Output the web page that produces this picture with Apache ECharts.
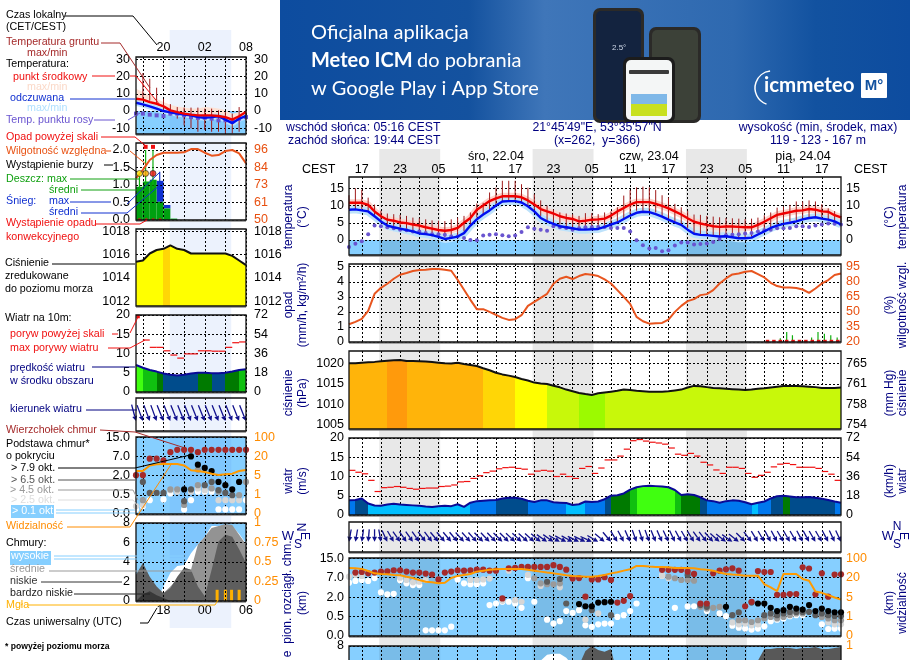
<!DOCTYPE html>
<html lang="pl">
<head>
<meta charset="UTF-8">
<title>Meteogram ICM</title>
<script src="https://cdn.jsdelivr.net/npm/echarts@6/dist/echarts.min.js"></script>
<style>
html,body{margin:0;padding:0;background:#fff}
#Main{width:910px;height:660px}
</style>
</head>
<body>
<div id="Main"></div>
<script type="text/javascript">
// ---- long forecast, hour 0 = 21.04 15:00 CEST ----
var tempMid = [10.8,10.8,10.8,10.2,8.3,6.9,5.9,5.6,5.1,4.9,4.5,4.2,3.7,3.3,2.9,2.7,2.9,3.5,5,6.4,8.8,10,11.3,12.1,12.7,12.7,12.7,12.4,11.5,10.3,9,8.3,7.7,6.9,6.4,6.1,5.4,5.6,5.9,6,6.2,7.1,8.3,9.3,10.3,11,11,11,10.5,9.9,9.2,8.3,7.4,6.3,5.3,4.8,4.4,4,3.8,3.9,3.9,3.8,3.7,3.7,4.4,5.3,6.3,7.3,7.7,8.1,8.5,8.6,9,8.8,8.3,8.2,7.2,6.6];
var tempFeel = [8.8,8.9,8.6,8.3,6.9,5.4,4.2,3.7,3.3,2.9,2.5,1.9,1.7,1.4,0.9,0.3,0.6,1,2,4.2,6,7.4,8.6,10,11.2,11.3,11.3,10.9,9.8,8.3,6.4,5.4,4.7,4,3.7,3.4,3,3,3.1,3.2,3.8,4.5,5.1,6.1,7.1,7.9,8.2,8.1,7.5,6.8,5.9,5.1,4.4,3,1.8,1.5,1.4,1.2,1,1.1,0.8,0.5,0.5,0.7,1.6,2.5,3.5,4.2,4.7,5,5.4,6,6.4,6.6,6.2,5.9,5.4,4.5];
var dewPoint = [-2,-1.1,-0.4,1.7,4.2,4,3.7,3.4,3,2.8,2.5,2.5,2,1.7,1.7,1.5,1,1,0.6,0,-0.1,1.3,1.5,1.7,1.4,1.1,1.3,2.3,3.7,3.3,3,2.7,4,3.7,3.5,3,3.4,3.7,3.7,3.8,3.8,3.5,3.5,3.5,2.5,-0.1,-1.5,-2.5,-2.3,-3.3,-3,-1.6,-0.7,-0.7,-1.3,-1.2,-1,-0.6,0.3,1.4,1.5,1.7,1.9,2,2.5,2.8,3,3.4,3.4,3.5,4,4,3.8,4.2,4.5,4.8,4.7,4.5];
var groundMax = [13,15,14.6,12.3,10.3,8.5,7.7,7.5,7.3,7,6.5,6.3,6,5.7,5.6,5.5,6,6.5,7,8,10.6,10.8,13.8,15.2,17.2,17.2,17.2,16.2,15.2,13.3,11.5,10,8.8,8,7.7,7.5,7,7.8,7.8,7.5,8,8.3,9.5,12.9,14.5,15.3,15.5,15.3,14.5,13,12.3,10.5,9.5,8.5,7.4,7.3,7,6.8,6.6,6.4,6.3,6.2,6.1,6.2,6.5,7.2,8,9.4,9.7,10.2,11.2,11.2,11.5,11.2,10.4,9.2,8.4,7];
var groundMin = [9,9,9,8.5,7,5,4.5,4,3.5,3,2.5,2,1.5,1,1,0.8,1,1.5,2.5,4,6.5,7.5,8.5,10,11,11.5,11.5,11,10,8.5,7,5.5,5,4.5,4,3.5,3,3,3,3,4,4.5,5,6,7.5,8.5,8.5,8.5,8,7,6,5,4.5,3.5,2,1.5,1.5,1.2,1,1,1,0.8,0.8,1,2,2.5,3.5,4.5,5,5.3,5.7,6.2,6.6,6.8,6.5,6,5.5,5];
var humidity = [37.7,40,43,51,68,74,78,83,87,88.7,90.7,91.7,92,92.7,92.7,92,91,82,72,62,52.7,52.7,50,47,44,42,42.7,46.7,56,60,64,68,78,83,85,82.7,85.7,87.7,87,85.7,82.3,78.3,71.7,65,58,45,40.7,38.3,38.7,39,42.3,50,56,60.7,62.7,66.7,67.7,71.7,78.3,83.3,87.3,88.3,90,90.7,87.7,84.3,79,75.7,74.3,74.3,73.7,72.3,69,73.3,78.3,81.7,86.7,88.3];
var rainSticks = [[67.5,0.25],[68.5,0.67],[69.4,0.45],[72.4,0.3],[73.4,0.67],[74.4,0.55],[75.4,0.45],[76.4,0.3]];
var convectiveHours = [65.5,66.5,67.5,68.5,69.5,70.5,71.5,72.5,73.5,74.5,75.5,76.5];
var pressure = [1020,1020,1020.15,1020.25,1020.35,1020.5,1020.65,1020.75,1020.8,1020.55,1020.55,1020.5,1020.45,1020.3,1020.15,1020,1019.95,1020.15,1019.85,1019.6,1019.35,1018.8,1018.3,1017.7,1017.3,1017,1016.65,1016.2,1015.8,1015.3,1015.1,1014.95,1014.55,1014.15,1013.6,1013.2,1012.77,1012.5,1012.3,1012.7,1012.9,1013.1,1013.3,1013.6,1013.5,1013.3,1013.2,1013.1,1013.1,1013.1,1013.2,1013.4,1013.6,1014.1,1014.5,1014.4,1014.2,1014,1013.9,1013.8,1013.7,1013.6,1013.5,1013.6,1013.8,1013.9,1014.1,1014.3,1014.5,1014.5,1014.5,1014.4,1014.3,1014.2,1014,1014,1014,1014.1];
var windSpeed = [3.84,3.9,4.3,3,2.45,2.4,2.7,2.9,2.7,2.6,2.5,2.4,2.2,2.1,2.3,2.4,2.3,2.8,2.1,3.2,3.6,3.7,3.8,3.9,4.3,4.5,4.5,4.2,3.7,3.4,3.8,3.8,3.3,3.2,3.1,2.6,2.8,3.5,3.4,3.5,4.1,5,5.15,5.6,6.6,7.2,7.5,7.6,7.5,7.4,7.2,6.5,5.2,5.4,5.2,4.6,3.8,3.6,3.2,3.6,3.8,3.7,3.3,2.8,3.2,3.5,4.3,4.9,5,4.8,4.6,4.6,4.7,4.5,4.2,3.9,3.5,3.2];
var gusts = [11.6,11.1,10.7,9,6.1,7.1,7.2,7.4,7.2,6.9,6.7,6.9,7,7,7.4,7.5,7.8,8.6,8.7,9.5,10.2,11,11.4,12,12.3,12.4,12.1,11.9,10.6,11.4,11.6,11.4,10,10.6,10,9.5,12.1,12.6,10.8,12.2,14.3,14.3,15.3,17.1,19.3,19.6,19.2,18.9,18.7,18.4,17.4,15.8,15.5,16,15.3,13.7,13,11.7,10.8,12.4,12.4,12.1,10.8,9.8,10.3,11.1,12.5,13.2,13.4,13.1,12.4,12.4,12.4,12.1,11.3,10.6,9];
var windDir = [10,10,8,5,0,350,335,330,325,325,325,325,323,323,320,320,320,320,318,318,318,316,316,316,315,315,313,313,312,312,310,305,305,300,298,298,296,296,295,300,310,320,328,332,336,340,342,340,338,336,335,335,332,330,328,325,322,318,312,308,305,308,315,322,328,330,332,332,330,330,330,332,332,330,330,332,335,335];
var visibility = [3.5,3.48,3.45,3.34,3.22,3.19,3.17,3.14,3.12,3.05,2.98,2.88,2.79,2.76,2.71,2.74,2.98,3.09,3.14,3.19,3.31,3.36,3.4,3.43,3.45,3.45,3.45,3.45,3.41,3.36,3.31,3.26,3.22,3.17,3.12,3.09,3.07,3.05,3.05,3.09,3.14,3.22,3.28,3.36,3.43,3.6,3.6,3.57,3.55,3.55,3.53,3.5,3.5,3.5,3.48,3.43,3.41,3.36,3.26,3.19,3.16,3.14,3.1,3.1,3.1,2.66,2.5,2.31,3.19,3.19,3.19,2.93,2.84,2.29,2.22,2.1,1.98,1.88];
// cloud base levels are counted in axis steps: 0=0km, 1=0.5km, 2=2km, 3=7km, 4=15km
var baseTops = [[1,3.26],[2,3.29],[3,3.22],[4,3.26],[5,3.31],[6,3.33],[7,3.38],[8,3.38],[9,3.31],[10,3.26],[11,3.26],[12,3.21],[13,3.16],[14,2.91],[15,3.26],[16,3.31],[17,3.38],[18,3.36],[19,3.38],[20,3.41],[21,3.41],[22,3.36],[23,3.36],[24,1.93],[25,3.48],[26,3.5],[27,3.55],[28,3.55],[29,3.55],[30,3.55],[31,3.55],[32,3.64],[33,3.55],[34,3.41],[35,2.95],[36,2.98],[37,2.02],[38,2.91],[39,2.91],[40,3.02],[41,2.88],[42,1.72],[43,1.81],[44,2.05],[49,3.4],[50,3.4],[51,3.4],[52,3.4],[53,3.31],[54,3.19],[55,1.67],[56,1.67],[57,3.22],[58,3.36],[59,3.43],[60,3.48],[61,3.36],[62,1.53],[63,1.76],[64,3.34],[65,3.29],[66,3.29],[67,2.12],[68,2.12],[69,2.16],[70,2.16],[71,3.53],[72,3.47],[73,2.14],[74,3.22],[75,2.02],[76,3.16],[77,3.17]];
var base79 = [[36,1.64],[37,1.53],[38,1.53],[39,1.72],[40,1.74],[41,1.76],[59,1.5],[64,1.67],[65,1.67],[66,1.45],[67,1.28],[68,1.33],[69,1.5],[70,1.41],[71,1.36],[72,1.59],[73,1.28],[74,1.41],[75,1.28],[76,1.22],[77,1.22]];
var base65 = [[31,2.79],[33,2.93],[34,1.67],[38,1.33],[41,1.07],[53,3.14],[55,1.59],[56,1.5],[60,1.07],[61,1.21],[63,1.72],[65,1.07],[66,1.16],[67,1.07],[68,1.16],[69,1.24],[70,1.24],[71,1.24],[72,1.24],[73,1.07],[74,1.16],[75,1.07],[76,1.03],[77,1.03]];
var base45 = [[29,2.97],[30,2.71],[31,2.66],[32,2.66],[33,2.71],[50,3.05],[51,2.97],[52,2.88],[53,2.88],[54,2.84],[55,1.5],[56,1.41],[57,1.45],[58,1.5],[61,0.81],[62,0.81],[63,0.72],[64,0.81],[65,0.9],[66,0.98],[67,0.9],[68,0.98],[69,1.07],[70,1.16],[71,1.16],[74,0.98],[75,0.9],[76,0.81],[77,0.81]];
var base25 = [[0,3.05],[1,3.14],[2,3.09],[8,3],[9,2.88],[10,2.76],[11,2.79],[12,2.88],[19,2.88],[20,2.88],[21,2.91],[22,2.95],[24,1.81],[25,3.36],[26,1.84],[27,1.76],[28,3.14],[30,2.57],[33,2.5],[37,0.84],[39,1.16],[49,3.1],[50,2.97],[60,0.7],[61,0.6],[62,0.64],[63,0.55],[64,0.6],[75,0.7],[76,0.6],[77,0.6]];
var base01 = [[0,2.74],[1,2.83],[2,2.88],[3,2.83],[4,2.98],[5,2.24],[6,2.14],[7,2.17],[8,2.86],[9,2.71],[10,2.62],[11,2.62],[12,0.29],[13,0.29],[14,0.29],[15,0.29],[16,0.48],[17,2.91],[18,2.71],[19,2.66],[20,2.66],[21,2.71],[22,1.59],[23,1.67],[24,1.76],[25,1.76],[26,1.67],[27,1.45],[28,2.97],[29,1.76],[31,0.84],[32,0.64],[33,0.76],[34,1.28],[35,1.19],[36,1.33],[37,0.55],[38,0.47],[39,0.6],[40,0.64],[41,0.64],[42,0.98],[43,1.07],[44,1.28],[45,1.67],[49,3.1],[51,1.45],[53,1.52],[54,1.53],[56,1.28],[58,1.16],[59,1.02],[60,0.53],[61,0.43],[62,0.38],[63,0.33],[64,0.38],[65,0.5],[66,0.76],[67,0.84],[68,0.9],[69,1.02],[70,1.07],[71,1.07],[74,0.6],[75,0.36],[76,0.38],[77,0.38]];
var cloudHigh = [0,0,0,0,0,0,0,0,0,0,0,0,0,0,0,0,0,0,0,0,0,0,0,0,0,0,0,0,0,5,6.5,7.1,7.2,7.2,6.8,6,5,0,0,0,0,0,0,0,0,0,0,0,0,0,0,0,0,0,0,0,0,0,0,0,0,0,0,0,0,0,0,0,0,0,0,0,0,0,0,0,0,0];
var cloudLow = [0,0,0,0,0,0,0,0,0,0,0,0,0,0,0,0,0,0,0,0,0,0,0,0,0,0,0,0,0,0,0,0,0,0,0,3,6,7.5,8,7.6,7.4,7.7,5,3,0,0,0,0,0,0,0,0,0,0,0,0,0,0,0,0,0,0,0,3,6.5,7.7,7.7,7.8,7.8,7.8,7.7,7.8,7.8,7.9,7.7,7.7,7.8,7.9];
var nightSpans = [[4.73,14.27],[28.73,38.27],[52.73,62.27]];

// ---- short forecast (small panels), hour 0 = 16:00 ----
var sTempMid = [7.1,6.6,5.2,4.2,2.7,0.4,-0.6,-1.5,-2.1,-2.5,-2.5,-2.5,-2.9,-3.5,-5,-3,-0.6];
var sTempFeel = [4.8,3.9,2.7,1.4,0,-0.8,-1.5,-2,-2.5,-3.5,-3.9,-3.5,-3,-5,-7,-4.4,-3];
var sTempMax = [12.9,11,9,7,5.2,3.7,2.7,2,1.4,1.4,2.3,2,1.4,0.4,-1.5,-0.6,0.4];
var sGroundMax = [7,22,18.7,13.5,7,4,2.3,2,2,2,1.4,1.4,0.4,-0.6,-1.5,2.3,0.4];
var sGroundMin = [7,7,6,4,0.4,-2.5,-4.4,-8.3,-10,-12,-11,-12,-12,-13,-13,-12,-5];
var sDew = [-1.5,-1.5,-2.1,-2.5,-2.9,-1.5,-1.5,-2.5,-3.5,-4,-3.9,-4.4,-5.4,-5.4,-6,-4.4,-3.5];
var sHumidity = [77.4,82.9,89.4,92.7,94.2,94.2,94.2,94.5,96.6,96.6,94.2,92.3,92.7,95.3,96,93.8,87.2];
var sRain = [0.95,1.1,1.15,0.52,0.33,0.04];
var sSnow = [0,0,0,0.6,0.1,0];
var sRainMax = [[0.5,1.33],[1.4,2],[2.47,2]];
var sSnowMax = [[3.45,1.38]];
var sOverScale = [[1.4,2.09],[2.47,2.09]];
var sStorm = [[0.5,1.33,'#ffe600'],[1.4,1.33,'#ffa500'],[2.47,1.33,'#f01010']];
var sConvective = [0.5,1.5,2.5,3.5];
var sPressure = [1015.4,1015.5,1016.1,1016.4,1016.5,1016.8,1016.5,1016.4,1016.1,1016.1,1016.1,1016.1,1016.1,1016.1,1015.9,1015.5,1015.1];
var sWind = [7,6.3,5.7,5.3,4.8,4.5,4.3,4.5,4.8,5,5,4.9,4.9,5,5.3,5.7,5.9];
var sGusts = [null,13.5,11.6,11.6,10.7,9.6,8.8,9.9,9.9,10.7,10.7,10.6,10.6,11.6,12.8,13];
var sGustOver = [[0.3,19.6]];
var sWindDir = [345,340,340,340,338,338,338,338,338,338,338,338,338,338,338,338,338];
var sTops = [[0,2.02],[1,2.02],[2,2.88],[3,2.88],[4,2.79],[5,3.22],[6,3.34],[7,3.34],[8,3.34],[9,3.22],[10,3.34],[11,3.34],[12,3.34],[13,3.34],[14,3.34],[15,3.34],[16,3.34]];
var s79 = [[7,1.28],[8,3],[9,2.57],[10,2.4],[11,2.24],[12,1.67],[13,1.5],[14,1.28],[15,1.67]];
var s65 = [[1,1.67],[2,1.1],[3,1.1],[4,1.1],[7,0.67],[8,1.28],[10,1.5],[11,1.67],[12,1.24],[13,1.1],[14,0.98]];
var s45 = [[1,0.72],[5,1.28],[6,1.28],[7,0.47],[9,1.5],[9,2.3],[11,1.33],[12,1.16],[15,0.98],[16,1.67]];
var s25 = [[0,0.41],[1,0.47],[5,1.24],[6,1.16],[8,1.16],[9,1.33],[10,1.24],[12,0.72],[13,0.72],[14,0.72],[15,0.72]];
var s01 = [[0,0.24],[1,0.41],[2,0.72],[4,0.76],[5,1.07],[7,0.24],[8,0.72],[9,1.16],[10,1.16],[11,1.16],[12,0.24],[13,0.24],[14,0.24],[15,0.24],[16,0.72]];
var sVisibility = [2.24,2.24,2.53,2.59,2.6,2.6,2.6,2.53,2.28,2.24,2.19,2.1,2.03,2.07,2.1,2.24,2.29];
var sCloudHigh = [0,0,0,0,1.5,2.9,3.6,3.7,4.9,5.8,6.6,7.7,7.7,7.8,7.7,6.9,5.9];
var sCloudMid = [0,0,0,0,0.8,1.5,2.2,3.4,3.2,5.8,6.6,7.5,7.7,7.9,7.8,6.8,5.8];
var sCloudLow = [2.7,3.9,2.5,1.5,0.8,1.3,2.5,3.4,3.2,1.5,0.5,3.2,6.1,6.8,6.6,5.3,3.9];
var sCloudVeryLow = [0,0.7,1,0.6,0.3,0,0,0,0,0,0,0,0,0,0,0,0];
var sFog = [[11.8,1.15],[13,1.15],[13.9,1.15],[15,1.15]];
var sBand = [[4.9,13.85]];

var FONT = '"Liberation Sans", Arial, sans-serif';
var grids = [], xAxes = [], yAxes = [], series = [], graphics = [];

function range(a, b, step) {
    var r = [];
    for (var v = a; v <= b; v += step) r.push(v);
    return r;
}
function pad2(h) {
    h = ((h % 24) + 24) % 24;
    return (h < 10 ? '0' : '') + h;
}

// one panel = one grid, one x axis, a left value axis and a right label axis
function addPanel(c) {
    var g = grids.length, ids = {x: xAxes.length, y: yAxes.length, r: yAxes.length + 1};
    grids.push({left: c.left, top: c.top, width: c.width, height: c.height, show: true, outerBoundsMode: 'none',
        backgroundColor: c.bg || '#fff', borderWidth: 0});
    xAxes.push({
        gridIndex: g, type: 'value', min: 0, max: c.xMax, position: c.xPos || 'top', z: 3,
        axisLine: {show: false},
        axisTick: {show: false, customValues: c.xTicks},
        splitLine: {show: true, lineStyle: {color: '#000', type: [2, 2], width: 1}},
        axisLabel: c.xLabels ? {show: true, customValues: c.xLabels, margin: c.xMargin, color: '#000', fontFamily: FONT, fontSize: 12.5, formatter: function (v) { return pad2(c.xBase + v); }} : {show: false}
    });
    var hasTicks = !!c.yTicks;
    yAxes.push({
        gridIndex: g, type: 'value', min: c.yMin, max: c.yMax, position: 'left', z: 3,
        axisLine: {show: false},
        axisTick: {show: false, customValues: c.yTicks || []},
        splitLine: {show: hasTicks, lineStyle: {color: '#000', type: [2, 2], width: 1}},
        axisLabel: hasTicks ? {show: true, customValues: c.yTicks, margin: c.lMargin, color: '#000', fontFamily: FONT, fontSize: 12.5,
            formatter: function (v) { return c.yLabels[c.yTicks.indexOf(v)]; }} : {show: false}
    });
    var rt = c.rTicks || c.yTicks, rm = c.rMin === undefined ? c.yMin : c.rMin, rx = c.rMax === undefined ? c.yMax : c.rMax;
    yAxes.push({
        gridIndex: g, type: 'value', min: rm, max: rx, position: 'right', z: 3,
        axisLine: {show: false},
        axisTick: {show: false, customValues: rt || []},
        splitLine: {show: false},
        axisLabel: hasTicks && c.rLabels ? {show: true, customValues: rt, margin: c.rMargin, color: c.rColor || '#000', fontFamily: FONT, fontSize: 12.5,
            formatter: function (v) { return c.rLabels[rt.indexOf(v)]; }} : {show: false}
    });
    ids.g = g;
    series.push({type: 'custom', xAxisIndex: ids.x, yAxisIndex: ids.y, z: 7, silent: true, data: [[0, c.yMin]],
        renderItem: function (p) {
            var s = p.coordSys;
            return {type: 'group', children: [
                {type: 'line', shape: {x1: s.x, y1: s.y + s.height + 1, x2: s.x + s.width, y2: s.y + s.height + 1}, style: {stroke: '#888', lineWidth: 1.5}},
                {type: 'rect', shape: {x: s.x, y: s.y, width: s.width, height: s.height}, style: {fill: null, stroke: '#111', lineWidth: 1.3}}
            ]};
        }});
    return ids;
}
function toPairs(vals) {
    return vals.map(function (v, i) { return [i, v]; });
}
function lineS(p, vals, color, width, z, opts) {
    var o = {type: 'line', xAxisIndex: p.x, yAxisIndex: (opts && opts.right) ? p.r : p.y, data: toPairs(vals), showSymbol: false, symbol: 'none',
        lineStyle: {color: color, width: width}, z: z || 4, silent: true, animation: false};
    if (opts && opts.area) o.areaStyle = {color: opts.area, opacity: 1};
    return o;
}
function dotsS(p, pairs, color, size, z, symbol) {
    return {type: 'scatter', xAxisIndex: p.x, yAxisIndex: p.y, data: pairs, symbol: symbol || 'circle', symbolSize: size,
        itemStyle: {color: color, opacity: 1}, z: z || 5, silent: true};
}
// hour lists with two numbers: a vertical stick from a to b
function sticksS(p, triples, color, width, z) {
    return {type: 'custom', xAxisIndex: p.x, yAxisIndex: p.y, z: z || 4, silent: true, data: triples,
        renderItem: function (param, api) {
            var a = api.coord([api.value(0), api.value(1)]), b = api.coord([api.value(0), api.value(2)]);
            return {type: 'line', shape: {x1: a[0], y1: a[1], x2: b[0], y2: b[1]}, style: {stroke: color, lineWidth: width}};
        }};
}
// each value is drawn as a short dash covering its hour
function dashS(p, vals, color, z) {
    var d = [];
    vals.forEach(function (v, i) { if (v !== null) d.push([i, v]); });
    return {type: 'custom', xAxisIndex: p.x, yAxisIndex: p.y, z: z || 5, silent: true, data: d,
        renderItem: function (param, api) {
            var a = api.coord([api.value(0), api.value(1)]), b = api.coord([api.value(0) + 1, api.value(1)]);
            return {type: 'line', shape: {x1: a[0], y1: a[1], x2: b[0], y2: b[1]}, style: {stroke: color, lineWidth: 1.2}};
        }};
}
// bar covering one hour, from a to b
function hourBarS(p, triples, color, z) {
    return {type: 'custom', xAxisIndex: p.x, yAxisIndex: p.y, z: z || 2, silent: true, data: triples,
        renderItem: function (param, api) {
            var a = api.coord([api.value(0), api.value(2)]), b = api.coord([api.value(0) + 1, api.value(1)]);
            return {type: 'rect', shape: {x: a[0], y: a[1], width: b[0] - a[0], height: b[1] - a[1]}, style: {fill: color}};
        }};
}
function arrowsS(p, dirs, len, headY, color) {
    return {type: 'custom', xAxisIndex: p.x, yAxisIndex: p.y, z: 5, silent: true, clip: false, data: dirs.map(function (d, i) { return [i, headY]; }),
        renderItem: function (param, api) {
            var tip = api.coord([api.value(0), api.value(1)]), r = dirs[param.dataIndex] * Math.PI / 180;
            var dx = -Math.sin(r), dy = Math.cos(r), nx = -dy, ny = dx;
            var bx = tip[0] - dx * 5, by = tip[1] - dy * 5;
            return {type: 'group', children: [
                {type: 'polyline', shape: {points: [[tip[0] - dx * len, tip[1] - dy * len], [bx, by]]}, style: {stroke: color, fill: null, lineWidth: 1.3}},
                {type: 'polygon', shape: {points: [[tip[0], tip[1]], [bx + nx * 2.5, by + ny * 2.5], [bx - nx * 2.5, by - ny * 2.5]]}, style: {fill: color}}
            ]};
        }};
}
// polygon between two lists
function bandS(p, upper, lower, color, z) {
    return {type: 'custom', xAxisIndex: p.x, yAxisIndex: p.y, z: z || 2, silent: true, data: [[0, upper[0]]],
        renderItem: function (param, api) {
            var pts = [], i;
            for (i = 0; i < upper.length; i++) pts.push(api.coord([i, upper[i]]));
            for (i = lower.length - 1; i >= 0; i--) pts.push(api.coord([i, lower[i]]));
            return {type: 'polygon', shape: {points: pts}, style: {fill: color}};
        }};
}
function hardStops(colors) {
    var n = colors.length - 1, st = [];
    for (var i = 0; i < n; i++) {
        st.push({offset: i / n, color: colors[i]});
        st.push({offset: (i + 1) / n, color: colors[i]});
    }
    return new echarts.graphic.LinearGradient(0, 0, 1, 0, st);
}
function pressureColor(v) {
    if (v >= 1020.6) return '#ff9a0c';
    if (v >= 1019.3) return '#ffb40a';
    if (v >= 1016.7) return '#ffd606';
    if (v >= 1015.05) return '#ffff00';
    if (v >= 1012.85) return '#c8f80a';
    return '#9cfa00';
}
function windColor(v) {
    if (v < 3.15) return '#00bfff';
    if (v < 3.9) return '#0078ee';
    if (v < 5) return '#004c8c';
    if (v < 5.7) return '#007a00';
    if (v < 7) return '#10c010';
    return '#40ff10';
}
// panel parts shared by the long and the short column
function tempBelowZero(p, yMin) {
    return {type: 'line', xAxisIndex: p.x, yAxisIndex: p.y, data: [], z: 1, silent: true,
        markArea: {silent: true, itemStyle: {color: '#86cfff'}, data: [[{yAxis: yMin}, {yAxis: 0}]]}};
}
function baseSeries(p, lists, vis, size) {
    var cols = ['#ffffff', '#d6d6d6', '#9a9a9a', '#5c5c5c', '#000000', '#a52a2a'];
    lists.forEach(function (l, i) { series.push(dotsS(p, l, cols[i], size, 4 + i * 0.01)); });
    series.push(lineS(p, vis, '#ff9a00', 2, 5));
}

// ---------------- long column ----------------
var HX = {left: 349, width: 492, xMax: 77, xTicks: range(2, 75, 3)};
function mp(o) { for (var k in HX) o[k] = HX[k]; o.lMargin = 5; o.rMargin = 5; return addPanel(o); }

var p1 = mp({top: 177, height: 78, yMin: -4.36, yMax: 18.3, yTicks: [0, 5, 10, 15], yLabels: ['0', '5', '10', '15'], rLabels: ['0', '5', '10', '15'],
    xLabels: range(2, 75, 6), xBase: 15, xMargin: 1});
series.push(tempBelowZero(p1, -4.36));
series.push(lineS(p1, tempMid, '#fdd4cc', 7, 2));
series.push(lineS(p1, tempFeel, '#bde2fb', 8, 2));
series.push(sticksS(p1, groundMax.map(function (v, i) { return [i, groundMin[i], v]; }), '#a01c1c', 1, 3));
series.push(dotsS(p1, toPairs(dewPoint), '#6a55d0', 4, 4));
series.push(lineS(p1, tempFeel, '#0010f0', 2.4, 5));
series.push(lineS(p1, tempMid, '#f00000', 2.4, 5));

var p2 = mp({top: 264, height: 78, yMin: 0, yMax: 5.18, yTicks: [0, 1, 2, 3, 4, 5], yLabels: ['0', '1', '2', '3', '4', '5'],
    rMin: 20, rMax: 97.7, rTicks: [20, 35, 50, 65, 80, 95], rLabels: ['20', '35', '50', '65', '80', '95'], rColor: '#e85010'});
series.push(lineS(p2, humidity, '#e8551f', 2, 5, {right: true}));
series.push(sticksS(p2, rainSticks.map(function (d) { return [d[0], 0, d[1]]; }), '#10b010', 1.2, 4));
series.push(dotsS(p2, convectiveHours.map(function (h) { return [h, 0.03]; }), '#e01010', 3.5, 5, 'rect'));

var p3 = mp({top: 351, height: 78, yMin: 1004, yMax: 1023, yTicks: [1005, 1010, 1015, 1020], yLabels: ['1005', '1010', '1015', '1020'], rLabels: ['754', '758', '761', '765']});
series.push(lineS(p3, pressure, '#111', 2, 5, {area: hardStops(pressure.map(pressureColor))}));

var p4 = mp({top: 438, height: 77, yMin: 0, yMax: 20, yTicks: [0, 5, 10, 15, 20], yLabels: ['0', '5', '10', '15', '20'], rLabels: ['0', '18', '36', '54', '72']});
series.push(lineS(p4, windSpeed, '#0a0a96', 2, 5, {area: hardStops(windSpeed.map(windColor))}));
series.push(dashS(p4, gusts, '#f01010'));

var p5 = mp({top: 522, height: 30, yMin: 0, yMax: 1});
series.push(arrowsS(p5, windDir, 12.5, 0.34, '#10108c'));

var p6 = mp({top: 558, height: 78, bg: '#86cfff', yMin: 0, yMax: 4.01, yTicks: [0, 1, 2, 3, 4], yLabels: ['0.0', '0.5', '2.0', '7.0', '15.0'],
    rLabels: ['0', '1', '5', '20', '100'], rColor: '#ff8c00'});
baseSeries(p6, [base01, base25, base45, base65, base79, baseTops], visibility, 6.2);

var p7 = mp({top: 646, height: 78, bg: '#86cfff', yMin: 0, yMax: 8, yTicks: [0, 2, 4, 6, 8], yLabels: ['0', '2', '4', '6', '8'],
    rLabels: ['0', '0.25', '0.5', '0.75', '1'], rColor: '#ff8c00'});
series.push(lineS(p7, cloudHigh, '#fff', 0, 2, {area: '#ffffff'}));
series.push(lineS(p7, cloudLow, '#585858', 0, 2.1, {area: '#585858'}));

// ---------------- short column ----------------
var SX = {left: 136, width: 110, xMax: 16, xTicks: range(1, 16, 3)};
function sp(o) { for (var k in SX) o[k] = SX[k]; o.lMargin = 6; o.rMargin = 8; return addPanel(o); }

var s1 = sp({top: 57, height: 77, yMin: -13.3, yMax: 31.3, yTicks: [-10, 0, 10, 20, 30], yLabels: ['-10', '0', '10', '20', '30'], rLabels: ['-10', '0', '10', '20', '30'],
    xLabels: [4, 10, 16], xBase: 16, xMargin: 3});
series.push(tempBelowZero(s1, -13.3));
series.push(bandS(s1, sTempMax, sTempMid, '#fde2d6', 1.5));
series.push(lineS(s1, sTempFeel, '#bde2fb', 6, 2));
series.push(sticksS(s1, sGroundMax.map(function (v, i) { return [i, sGroundMin[i], v]; }), '#a01c1c', 1, 3));
series.push(dotsS(s1, toPairs(sDew), '#6a55d0', 4, 4, 'rect'));
series.push(lineS(s1, sTempFeel, '#0010f0', 2.4, 5));
series.push(lineS(s1, sTempMid, '#f00000', 2.4, 5));

var s2 = sp({top: 143, height: 77, yMin: 0, yMax: 2.2, yTicks: [0, 0.5, 1, 1.5, 2], yLabels: ['0.0', '0.5', '1.0', '1.5', '2.0'],
    rMin: 50, rMax: 100.6, rTicks: [50, 61.5, 73, 84.5, 96], rLabels: ['50', '61', '73', '84', '96'], rColor: '#e85010'});
series.push(hourBarS(s2, sSnow.map(function (v, i) { return [i, sRain[i], sRain[i] + v]; }), '#1030d0'));
series.push(hourBarS(s2, sRain.map(function (v, i) { return [i, 0, v]; }), '#00a010', 2.1));
series.push(sticksS(s2, sRainMax.map(function (d) { return [d[0], 0.9, d[1]]; }), '#10b010', 1.2, 4));
series.push(sticksS(s2, sSnowMax.map(function (d) { return [d[0], 0.9, d[1]]; }), '#1030d0', 1.2, 4));
series.push(lineS(s2, sHumidity, '#e8551f', 2, 5, {right: true}));
series.push(dotsS(s2, sOverScale, '#f01010', 4, 6, 'rect'));
series.push(dotsS(s2, sConvective.map(function (h) { return [h, 0.01]; }), '#e01010', 2.5, 6, 'rect'));
series.push({type: 'scatter', xAxisIndex: s2.x, yAxisIndex: s2.y, z: 6, silent: true, symbolSize: 6,
    data: sStorm.map(function (d) { return {value: [d[0], d[1]], itemStyle: {color: d[2], borderColor: '#222', borderWidth: 0.8}}; })});

var s3 = sp({top: 229, height: 77, yMin: 1011.6, yMax: 1018.2, yTicks: [1012, 1014, 1016, 1018], yLabels: ['1012', '1014', '1016', '1018'], rLabels: ['1012', '1014', '1016', '1018']});
// the short column colours each hour by the value at its end
series.push(lineS(s3, sPressure, '#111', 2, 5, {area: hardStops(sPressure.slice(1).concat(sPressure[16]).map(pressureColor))}));

var s4 = sp({top: 315, height: 77, yMin: 0, yMax: 20, yTicks: [0, 5, 10, 15, 20], yLabels: ['0', '5', '10', '15', '20'], rLabels: ['0', '18', '36', '54', '72']});
series.push(lineS(s4, sWind, '#0a0a96', 2, 5, {area: hardStops(sWind.map(windColor))}));
series.push(dashS(s4, sGusts, '#f01010'));
series.push(dotsS(s4, sGustOver, '#f01010', 3.5, 6, 'rect'));

var s5 = sp({top: 398, height: 33, yMin: 0, yMax: 1});
series.push(arrowsS(s5, sWindDir, 17, 0.3, '#10108c'));

var s6 = sp({top: 437, height: 77, bg: '#86cfff', yMin: 0, yMax: 4.01, yTicks: [0, 1, 2, 3, 4], yLabels: ['0.0', '0.5', '2.0', '7.0', '15.0'],
    rLabels: ['0', '1', '5', '20', '100'], rColor: '#ff8c00'});
baseSeries(s6, [s01, s25, s45, s65, s79, sTops], sVisibility, 6.2);

var s7 = sp({top: 523, height: 78, bg: '#86cfff', yMin: 0, yMax: 8, yTicks: [0, 2, 4, 6, 8], yLabels: ['0', '2', '4', '6', '8'],
    rLabels: ['0', '0.25', '0.5', '0.75', '1'], rColor: '#ff8c00',
    xPos: 'bottom', xLabels: [4, 10, 16], xBase: 14, xMargin: 3});
series.push(lineS(s7, sCloudHigh, '#fff', 0, 2, {area: '#ffffff'}));
series.push(lineS(s7, sCloudMid, '#939393', 0, 2.1, {area: '#939393'}));
series.push(lineS(s7, sCloudLow, '#5e5e5e', 0, 2.2, {area: '#5e5e5e'}));
series.push(lineS(s7, sCloudVeryLow, '#383838', 0, 2.3, {area: '#383838'}));
series.push(sticksS(s7, sFog.map(function (d) { return [d[0], 0, d[1]]; }), '#ffb000', 3, 2.4));

// day/night bands lie over the backgrounds but under the fills
function bandGrid(left, width, top, height, xMax, spans, color) {
    var g = grids.length, x = xAxes.length, y = yAxes.length;
    grids.push({left: left, width: width, top: top, height: height, show: false, outerBoundsMode: 'none'});
    xAxes.push({gridIndex: g, type: 'value', min: 0, max: xMax, show: false});
    yAxes.push({gridIndex: g, type: 'value', min: 0, max: 1, show: false});
    series.push({type: 'custom', xAxisIndex: x, yAxisIndex: y, z: 1.2, silent: true, data: spans,
        renderItem: function (param, api) {
            var a = api.coord([api.value(0), 1]), b = api.coord([api.value(1), 0]);
            return {type: 'rect', shape: {x: a[0], y: a[1], width: b[0] - a[0], height: b[1] - a[1]}, style: {fill: color}};
        }});
}
bandGrid(349, 492, 149, 511, 77, nightSpans, 'rgba(0,0,0,0.09)');
bandGrid(136, 110, 30, 598, 16, sBand, 'rgba(70,130,240,0.1)');

// ---------------- texts and leader lines ----------------
function txt(x, y, s, color, o) {
    o = o || {};
    graphics.push({type: 'text', x: x, y: y, z: 20, rotation: o.rot || 0, silent: true, style: {
        text: s, fill: color || '#000', align: o.align || 'left', verticalAlign: 'middle',
        font: (o.weight ? o.weight + ' ' : '') + (o.size || 10.7) + 'px ' + (o.family || FONT)}});
}
function ln(pts, color, w) {
    graphics.push({type: 'polyline', z: 19, silent: true, shape: {points: pts}, style: {stroke: color || '#000', fill: null, lineWidth: w || 1}});
}
function box(x, y, w, h, fill, r, z) {
    graphics.push({type: 'rect', z: z || 18, silent: true, shape: {x: x, y: y, width: w, height: h, r: r || 0}, style: {fill: fill}});
}

// banner
graphics.push({type: 'rect', z: 1, silent: true, shape: {x: 280, y: 0, width: 630, height: 120},
    style: {fill: new echarts.graphic.LinearGradient(0, 0, 1, 0, [{offset: 0, color: '#0d4c9f'}, {offset: 0.3, color: '#14529f'}, {offset: 0.42, color: '#3f76b9'}, {offset: 0.72, color: '#2e69b0'}, {offset: 0.85, color: '#1252a0'}, {offset: 1, color: '#0d4c9f'}])}});
txt(311, 33, 'Oficjalna aplikacja', '#fff', {size: 20, family: 'Lato'});
txt(311, 61, 'Meteo ICM', '#fff', {size: 20, family: 'Lato', weight: 'bold'});
txt(417, 61, 'do pobrania', '#fff', {size: 20, family: 'Lato'});
txt(311, 89, 'w Google Play i App Store', '#fff', {size: 20, family: 'Lato'});
box(593, 8, 51, 115, '#2b2a28', 7);
box(596, 11, 45, 109, '#13233f', 5);
txt(612, 48, '2.5°', '#cfd8e8', {size: 8});
box(649, 27, 52, 96, '#2b2a28', 7);
box(652, 30, 46, 90, '#3c4138', 5);
box(623, 57, 52, 66, '#1c1c1c', 7);
box(626, 60, 46, 60, '#f4f6f6', 5);
box(629, 70, 40, 4, '#3a3a3a', 1);
box(631, 94, 36, 10, '#7fb8e8', 0);
box(631, 104, 36, 12, '#c8e020', 0);
txt(764, 85, 'icmmeteo', '#fff', {size: 20.5, family: 'Lato', weight: 'bold'});
graphics.push({type: 'arc', z: 20, silent: true, shape: {cx: 772, cy: 88, r: 17, startAngle: 1.9, endAngle: 4.6}, style: {stroke: '#fff', fill: null, lineWidth: 1.5}});
box(861, 73, 26, 25, '#fff', 1);
txt(874, 86, 'M°', '#1252a0', {size: 15, weight: 'bold', align: 'center'});

// header of the long column
var NAVY = '#000080';
var HS = {size: 12.3};
txt(286, 128, 'wschód słońca: 05:16 CEST', NAVY, HS);
txt(288, 141, 'zachód słońca: 19:44 CEST', NAVY, HS);
txt(597, 128, '21°45\'49"E, 53°35\'57"N', NAVY, {align: 'center', size: 12.3});
txt(597, 141, '(x=262,  y=366)', NAVY, {align: 'center', size: 12.3});
txt(818, 128, 'wysokość (min, środek, max)', NAVY, {align: 'center', size: 12.3});
txt(818, 141, '119 - 123 - 167 m', NAVY, {align: 'center', size: 12.3});
txt(496, 157, 'śro, 22.04', '#000', {align: 'center', size: 12.6});
txt(649, 157, 'czw, 23.04', '#000', {align: 'center', size: 12.6});
txt(803, 157, 'pią, 24.04', '#000', {align: 'center', size: 12.6});
txt(302, 170, 'CEST', '#000', {size: 12.5});
txt(854, 170, 'CEST', '#000', {size: 12.5});

var UP = Math.PI / 2;
function vert(x, y, s, color) { txt(x, y, s, color || NAVY, {rot: UP, align: 'center', size: 12}); }
vert(289, 217, 'temperatura'); vert(303, 217, '(°C)');
vert(890, 217, '(°C)'); vert(903, 217, 'temperatura');
vert(289, 305, 'opad'); vert(303, 305, '(mm/h, kg/m²/h)');
vert(890, 305, '(%)'); vert(903, 305, 'wilgotność wzgl.');
vert(289, 393, 'ciśnienie'); vert(303, 393, '(hPa)');
vert(890, 393, '(mm Hg)'); vert(903, 393, 'ciśnienie');
vert(289, 481, 'wiatr'); vert(303, 481, '(m/s)');
vert(890, 481, '(km/h)'); vert(903, 481, 'wiatr');
vert(288, 592, 'pion. rozciągł. chm.'); vert(303, 603, '(km)');
vert(890, 603, '(km)'); vert(903, 603, 'widzialność');
vert(288, 654, 'e');
// compass marks
txt(288, 536, 'W', NAVY, {align: 'center', size: 13});
txt(888, 536, 'W', NAVY, {align: 'center', size: 13});
txt(300, 527, 'N', NAVY, {align: 'center', size: 12, rot: -UP});
txt(304, 536, 'E', NAVY, {align: 'center', size: 12, rot: -UP});
txt(298, 545, 'S', NAVY, {align: 'center', size: 12});
txt(897, 527, 'N', NAVY, {align: 'center', size: 12});
txt(903, 536, 'E', NAVY, {align: 'center', size: 12, rot: -UP});
txt(897, 545, 'S', NAVY, {align: 'center', size: 12});

// legend of the short column
var RED = '#f01010', BROWN = '#a52a2a', ORG = '#e85010', GRN = '#10a010', BLU = '#1030d0', PUR = '#6a55d0', SKY = '#86cfff';
txt(6, 15, 'Czas lokalny'); txt(6, 27, '(CET/CEST)');
ln([[65, 16], [133, 16], [157, 45]]);
txt(6, 42, 'Temperatura gruntu', BROWN); txt(27, 53, 'max/min', BROWN);
ln([[101, 43], [120, 43], [150, 88]], BROWN);
txt(6, 64, 'Temperatura:');
txt(13, 77, 'punkt środkowy', RED); ln([[92, 76], [115, 76]], RED, 1); ln([[130, 76], [136, 76], [160, 105]], RED);
txt(27, 87, 'max/min', '#fbd9c8');
txt(10, 98, 'odczuwana', BLU); ln([[70, 99], [135, 99]], BLU);
txt(27, 108, 'max/min', '#b0e0ff');
txt(6, 120, 'Temp. punktu rosy', PUR); ln([[94, 120], [115, 120]], PUR); ln([[128, 120], [140, 113]], PUR);
txt(6, 137, 'Opad powyżej skali', RED); ln([[101, 137], [135, 137], [146, 146]], RED);
txt(6, 151, 'Wilgotność względna', ORG); ln([[106, 151], [111, 151]], ORG); ln([[130, 151], [147, 165]], ORG);
txt(6, 165, 'Wystąpienie burzy'); ln([[104, 165], [113, 165]]); ln([[128, 166], [137, 172]]);
txt(6, 179, 'Deszcz: max', GRN); ln([[70, 179], [139, 179]], GRN);
txt(49, 190, 'średni', GRN); ln([[81, 190], [145, 190]], GRN);
txt(6, 201, 'Śnieg:', BLU); txt(49, 201, 'max', BLU); ln([[70, 202], [111, 202]], BLU); ln([[127, 204], [160, 172]], BLU);
txt(49, 212, 'średni', BLU); ln([[81, 213], [127, 213], [160, 185]], BLU);
txt(6, 223, 'Wystąpienie opadu', RED); ln([[96, 224], [140, 224], [147, 220]], RED);
txt(6, 237, 'konwekcyjnego', RED);
txt(5, 263, 'Ciśnienie'); ln([[52, 264], [135, 264]]);
txt(5, 276, 'zredukowane'); txt(5, 289, 'do poziomu morza');
txt(5, 318, 'Wiatr na 10m:');
txt(10, 334, 'poryw powyżej skali', RED); ln([[112, 334], [118, 334]], RED); ln([[130, 333], [138, 317]], RED);
txt(10, 348, 'max porywy wiatru', RED); ln([[108, 348], [130, 348], [145, 340]], RED);
txt(10, 368, 'prędkość wiatru', NAVY); ln([[92, 367], [135, 367]], NAVY);
txt(10, 381, 'w środku obszaru', NAVY);
txt(10, 409, 'kierunek wiatru', NAVY); ln([[86, 410], [137, 410]], NAVY);
txt(6, 430, 'Wierzchołek chmur', BROWN); ln([[100, 430], [135, 432], [185, 448]], BROWN);
txt(6, 444, 'Podstawa chmur*'); txt(6, 456, 'o pokryciu');
txt(11, 468, '> 7.9 okt.', '#000'); ln([[58, 468], [135, 468], [190, 455]]);
txt(11, 480, '> 6.5 okt.', '#555'); ln([[58, 480], [135, 480]], '#555');
txt(10, 490, '> 4.5 okt.', '#999'); ln([[58, 490], [133, 490], [138, 500]], '#999');
txt(11, 500, '> 2.5 okt.', '#ddd'); ln([[58, 500], [133, 500], [138, 506]], '#ddd');
box(11, 505, 43, 13, SKY);
txt(12, 511, '> 0.1 okt.', '#fff');
ln([[56, 510], [135, 510]], SKY); ln([[56, 513], [135, 513]], SKY);
txt(6, 526, 'Widzialność', '#ff8c00'); ln([[67, 527], [130, 527], [172, 463]], '#ff8c00');
txt(6, 543, 'Chmury:');
box(10, 551, 41, 14, SKY);
txt(11, 556, 'wysokie', '#fff');
ln([[54, 556], [186, 556]], SKY); ln([[54, 559], [186, 559]], SKY);
txt(10, 569, 'średnie', '#999'); ln([[49, 571], [192, 571]], '#999');
txt(10, 581, 'niskie', '#333'); ln([[41, 582], [122, 582]], '#333');
txt(10, 593, 'bardzo niskie', '#222'); ln([[74, 594], [150, 594]], '#222');
txt(6, 605, 'Mgła', '#ffb000'); ln([[28, 605], [215, 605], [218, 600]], '#ffb000');
txt(6, 622, 'Czas uniwersalny (UTC)'); ln([[140, 623], [148, 623], [157, 608]]);
txt(5, 647, '* powyżej poziomu morza', '#000', {size: 8.6, weight: 'bold'});

var myChart = echarts.init(document.getElementById('Main'), null, {renderer: 'canvas'});
myChart.setOption({
    animation: false,
    textStyle: {fontFamily: FONT},
    grid: grids,
    xAxis: xAxes,
    yAxis: yAxes,
    series: series,
    graphic: graphics
});
</script>
</body>
</html>
